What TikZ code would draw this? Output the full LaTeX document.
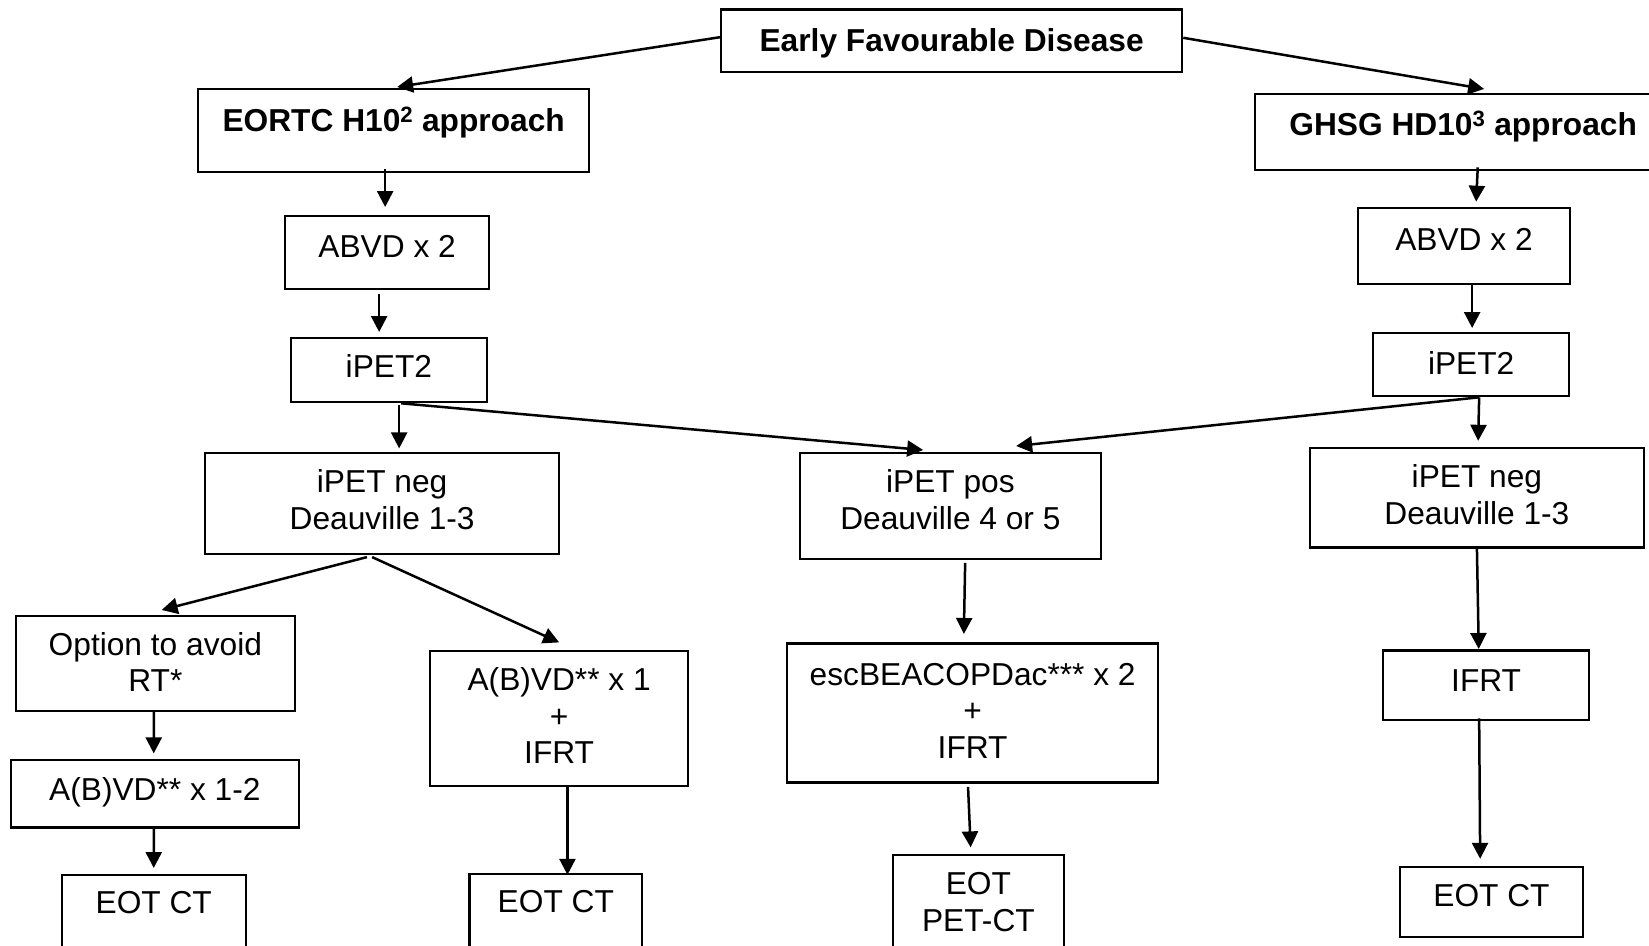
\documentclass[tikz,border=0pt]{standalone}
\usepackage{fontspec}
\setmainfont{Liberation Sans}
\usetikzlibrary{arrows.meta}
\newcommand\boxtext[4][40]{\parbox[c][#3pt][t]{#2pt}{\centering\rule{0pt}{#1pt}#4\par}}
\tikzset{
  bx/.style={draw, line width=2.3pt, inner sep=0pt, anchor=north west,
    font=\fontsize{31.7}{36.5}\selectfont},
  arr/.style={line width=2.5pt, -{Triangle[length=16pt,width=16pt]}}
}
\begin{document}
\begin{tikzpicture}[x=1pt,y=-1pt]
\useasboundingbox (0,0) rectangle (1649,945);
\clip (0,0) rectangle (1649,945);
% boxes
\node[bx] (early) at (720,8.3) {\boxtext[42]{461}{62.7}{\bfseries Early Favourable Disease}};
\node[bx] (eortc) at (197,88) {\boxtext[42]{391}{82.7}{\bfseries EORTC H10\textsuperscript{2} approach}};
\node[bx] (ghsg) at (1254,92.7) {\boxtext[42]{416}{76.3}{\bfseries GHSG HD10\textsuperscript{3} approach}};
\node[bx] (abvdL) at (284,215) {\boxtext[41]{204}{72.7}{ABVD x 2}};
\node[bx] (ipetL) at (289.5,336.7) {\boxtext[40]{196.5}{64.3}{iPET2}};
\node[bx] (abvdR) at (1356.6,207) {\boxtext[42]{212.4}{75.7}{ABVD x 2}};
\node[bx] (ipetR) at (1372,332) {\boxtext[41]{196}{63}{iPET2}};
\node[bx] (negL) at (204,451.8) {\boxtext{354}{101.2}{iPET neg\\Deauville 1-3}};
\node[bx] (pos) at (799,451.8) {\boxtext{300.5}{106}{iPET pos\\Deauville 4 or 5}};
\node[bx] (negR) at (1308.5,446.8) {\boxtext{334.5}{99.6}{iPET neg\\Deauville 1-3}};
\node[bx] (opt) at (14.7,614.6) {\boxtext[39.5]{279}{95}{Option to avoid\\RT*}};
\node[bx] (abvd1) at (429,649.8) {\boxtext{258}{134.7}{A(B)VD** x 1\\+\\IFRT}};
\node[bx] (esc) at (786,642.4) {\boxtext[41.6]{371}{138.8}{escBEACOPDac*** x 2\\+\\IFRT}};
\node[bx] (ifrt) at (1382,649.4) {\boxtext[40.6]{206}{69.3}{IFRT}};
\node[bx] (abvd12) at (9.5,758.8) {\boxtext[41]{288.5}{67.6}{A(B)VD** x 1-2}};
\node[bx] (eotL) at (60.5,873.8) {\boxtext[39]{184.2}{100}{EOT CT}};
\node[bx] (eotM) at (468.4,872.5) {\boxtext[39]{172.6}{100}{EOT CT}};
\node[bx] (eotP) at (892,853.8) {\boxtext{170.5}{110}{EOT\\PET-CT}};
\node[bx] (eotR) at (1399,865.8) {\boxtext{182.7}{70.2}{EOT CT}};
% connectors
\draw[arr] ([yshift=3.6pt]early.west) -- ([xshift=3.5pt,yshift=1pt]eortc.north);
\draw[arr] ([yshift=3pt]early.east) -- ([xshift=21pt,yshift=3.7pt]ghsg.north);
\draw[arr] ([xshift=-8.5pt,yshift=3.7pt]eortc.south) -- ([xshift=-2pt,yshift=8pt]abvdL.north);
\draw[arr] ([xshift=-8pt,yshift=-4.3pt]abvdL.south) -- ([xshift=-9.75pt,yshift=4.7pt]ipetL.north);
\draw[arr] ([xshift=14.6pt,yshift=4pt]ghsg.south) -- ([xshift=12.2pt,yshift=5.3pt]abvdR.north);
\draw[arr] ([xshift=8.2pt]abvdR.south) -- ([xshift=1pt,yshift=4pt]ipetR.north);
\draw[arr] ([xshift=10.25pt,yshift=-2pt]ipetL.south) -- ([xshift=17pt,yshift=3.4pt]negL.north);
\draw[arr] ([xshift=12.25pt]ipetL.south) -- ([xshift=-27.25pt,yshift=1.8pt]pos.north);
\draw[arr] ([xshift=8pt]ipetR.south) -- ([xshift=65.75pt,yshift=5.8pt]pos.north);
\draw[arr] ([xshift=8pt]ipetR.south) -- ([xshift=1.25pt,yshift=6pt]negR.north);
\draw[arr] ([xshift=-15.2pt,yshift=-1.8pt]negL.south) -- ([xshift=6.3pt,yshift=4.6pt]opt.north);
\draw[arr] ([xshift=-10pt,yshift=-1.8pt]negL.south) -- ([yshift=7.4pt]abvd1.north);
\draw[arr] ([xshift=-1.6pt]opt.south) -- ([xshift=-1.15pt,yshift=5.4pt]abvd12.north);
\draw[arr] ([xshift=-1.15pt]abvd12.south) -- ([yshift=5.8pt]eotL.north);
\draw[arr] ([xshift=8.3pt]abvd1.south) -- ([xshift=11.6pt,yshift=-2.3pt]eotM.north);
\draw[arr] ([xshift=14.75pt,yshift=-2.7pt]pos.south) -- ([xshift=-8.8pt,yshift=8.4pt]esc.north);
\draw[arr] ([xshift=-4.6pt,yshift=-3.3pt]esc.south) -- ([xshift=-7.75pt,yshift=6.4pt]eotP.north);
\draw[arr] ([yshift=1pt]negR.south) -- ([xshift=-7.4pt,yshift=0.4pt]ifrt.north);
\draw[arr] ([xshift=-7pt,yshift=2.7pt]ifrt.south) -- ([xshift=-11.35pt,yshift=7pt]eotR.north);
\end{tikzpicture}
\end{document}
